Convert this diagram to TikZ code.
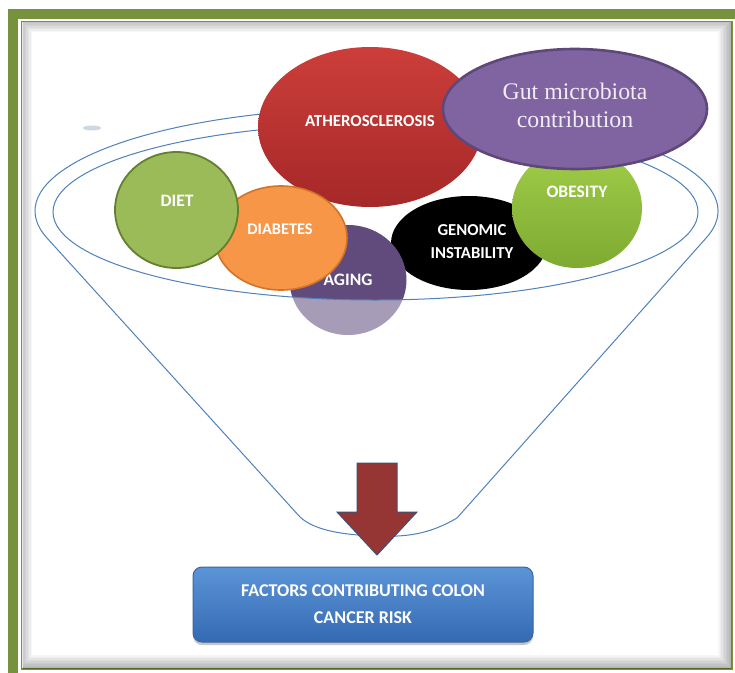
\documentclass[tikz,border=0pt]{standalone}
\usepackage{fontspec}
\setmainfont{Carlito}
\newfontfamily\gutfont{Liberation Serif}
\usetikzlibrary{shapes.geometric,shadows}
\definecolor{frameg}{RGB}{118,146,60}
\definecolor{funnelb}{RGB}{79,129,189}
\definecolor{athtop}{RGB}{204,62,58}
\definecolor{athbot}{RGB}{165,40,40}
\definecolor{gutfill}{RGB}{128,100,162}
\definecolor{gutline}{RGB}{94,72,122}
\definecolor{gutText}{RGB}{242,236,246}
\definecolor{dietfill}{RGB}{155,187,89}
\definecolor{dietline}{RGB}{98,128,48}
\definecolor{diabfill}{RGB}{247,150,70}
\definecolor{diabline}{RGB}{210,115,40}
\definecolor{agefill}{RGB}{96,75,124}
\definecolor{obetop}{RGB}{160,205,72}
\definecolor{obebot}{RGB}{126,170,50}
\definecolor{arrowfill}{RGB}{150,54,52}
\definecolor{arrowline}{RGB}{60,80,120}
\definecolor{boxtop}{RGB}{92,148,216}
\definecolor{boxbot}{RGB}{52,106,178}
\definecolor{boxline}{RGB}{60,100,160}
\definecolor{smudge}{RGB}{205,215,230}
\newcommand{\labsize}[1]{\bfseries\fontsize{#1}{23}\selectfont}
\tikzset{
  blob/.style={ellipse, inner sep=0pt},
  lab/.style={text=white, align=center, inner sep=0pt},
  funnelline/.style={draw=funnelb, line width=1pt},
}
\begin{document}
\begin{tikzpicture}[x=1pt,y=-1pt]
\useasboundingbox (0,0) rectangle (735,672);
% frame
\fill[white] (0,0) rectangle (735,672);
\draw[frameg, line width=10pt] (13,13.5) rectangle (760,700);
\draw[frameg, line width=1.8pt] (21.5,21.5) rectangle (732,669);
\begin{scope}
  \clip (22.5,22.5) rectangle (731,668);
  \foreach \w in {2,5,8,11,14,17,20,23,26}
    \draw[black, opacity=0.035, line width=\w pt] (19,19) rectangle (731,668);
\end{scope}
\node[blob, fill=smudge, minimum width=18pt, minimum height=5pt] (smudge) at (92,128) {};
% back shapes
\node[blob, fill=black, minimum width=156pt, minimum height=94pt] (gen) at (469,243) {};
\node[blob, fill=agefill, minimum width=117pt, minimum height=110pt] (age) at (348,280) {};
\node[lab, font=\labsize{17.5}] (ageT) at (348,280) {AGING};
% funnel
\path[fill=white, fill opacity=0.45, even odd rule]
  (300,517) -- (47,238) arc[start angle=164.8, end angle=375.2, x radius=341.5, y radius=103]
  -- (457,518) .. controls (428,535) and (405,537) .. (377,536)
  .. controls (345,535) and (315,531) .. (300,517) -- cycle
  (375.5,212) ellipse[x radius=322.5, y radius=88];
\draw[funnelline]
  (300,517) -- (47,238) arc[start angle=164.8, end angle=375.2, x radius=341.5, y radius=103]
  -- (457,518) .. controls (428,535) and (405,537) .. (377,536)
  .. controls (345,535) and (315,531) .. (300,517);
\node[blob, funnelline, minimum width=645pt, minimum height=176pt] (rim) at (375.5,212) {};
% front shapes
\node[blob, top color=athtop, bottom color=athbot, minimum width=224pt, minimum height=160pt] (ath) at (370,127) {};
\node[lab, font=\labsize{16.8}] (athT) at (370,121) {ATHEROSCLEROSIS};
\node[lab, font=\labsize{16.7}] (genT) at (472,241.5) {GENOMIC\\INSTABILITY};
\node[blob, fill=diabfill, draw=diabline, line width=1.6pt, minimum width=132pt, minimum height=104pt] (diab) at (281,238) {};
\node[lab, font=\labsize{16.3}] (diabT) at (280,229) {DIABETES};
\node[blob, fill=dietfill, draw=dietline, line width=1.8pt, minimum width=123pt, minimum height=116pt] (diet) at (176.5,210) {};
\node[lab, font=\labsize{17.5}] (dietT) at (177,201) {DIET};
\node[blob, top color=obetop, bottom color=obebot, minimum width=130pt, minimum height=120pt] (obe) at (577,208) {};
\node[lab, font=\labsize{17.5}] (obeT) at (577,192) {OBESITY};
\node[blob, fill=gutfill, draw=gutline, line width=2.6pt, minimum width=264pt, minimum height=120pt] (gut) at (575,109) {};
\node[text=gutText, font=\gutfont\fontsize{23.8}{28}\selectfont, align=center, inner sep=0pt] (gutT) at (575,105.5) {Gut microbiota\\contribution};
% arrow and result box
\coordinate (atop) at (377,463);
\draw[fill=arrowfill, draw=arrowline, line width=1pt, line join=miter]
  ([xshift=-20pt]atop) -- ([xshift=20pt]atop) -- ([xshift=20pt,yshift=-49pt]atop)
  -- ([xshift=40pt,yshift=-49pt]atop) -- ([yshift=-92pt]atop) -- ([xshift=-40pt,yshift=-49pt]atop)
  -- ([xshift=-20pt,yshift=-49pt]atop) -- cycle;
\node[draw=boxline, line width=1pt, top color=boxtop, bottom color=boxbot, rounded corners=9pt,
      minimum width=340pt, minimum height=75pt, text=white, align=center,
      font=\bfseries\fontsize{18}{27}\selectfont,
      drop shadow={shadow xshift=0pt, shadow yshift=-3pt, opacity=0.45}] (risk) at (363,604.5)
  {FACTORS CONTRIBUTING COLON\\CANCER RISK};
\end{tikzpicture}
\end{document}
